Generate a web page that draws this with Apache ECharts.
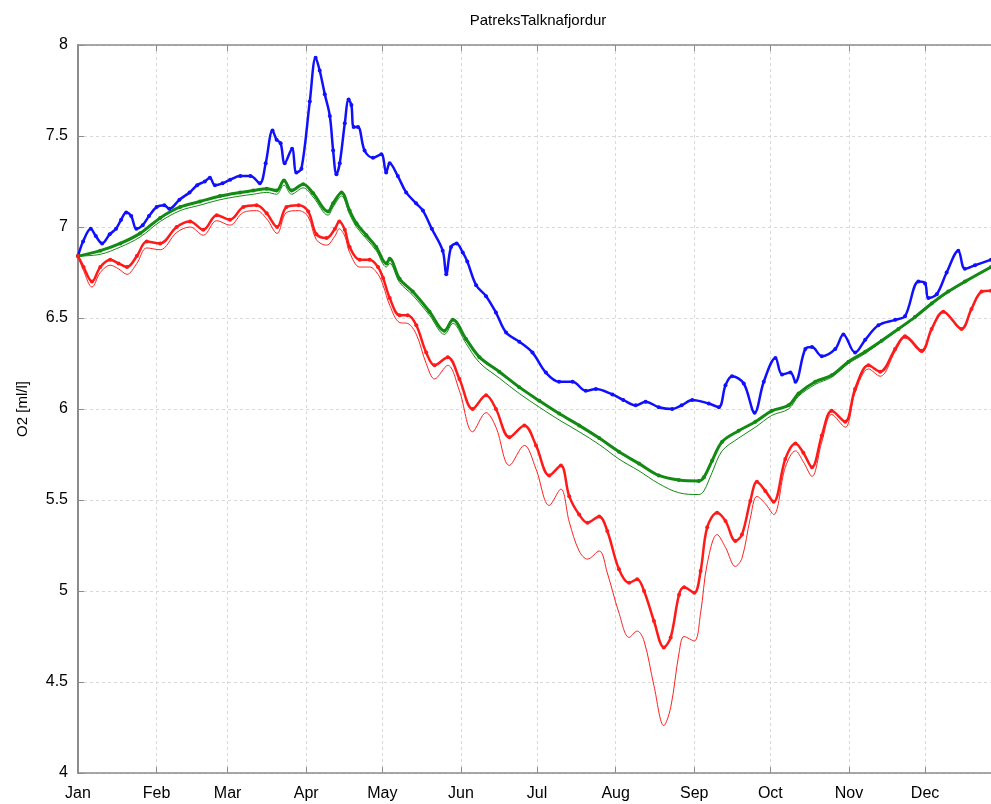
<!DOCTYPE html>
<html>
<head>
<meta charset="utf-8" />
<title>PatreksTalknafjordur</title>
<script src="https://cdn.jsdelivr.net/npm/echarts@6/dist/echarts.min.js"></script>
<style>
	html,body{margin:0;padding:0;background:#fff;}
	#chart{width:991px;height:804px;}
</style>
</head>
<body>
<div id="chart"></div>
<script>
// month ticks (day of year)
var monthNames=['Jan','Feb','Mar','Apr','May','Jun','Jul','Aug','Sep','Oct','Nov','Dec'];
var monthStarts=[0,31,59,90,120,151,181,212,243,273,304,334];
var yTicks=[4,4.5,5,5.5,6,6.5,7,7.5,8];

// blue
var blueDays=[0,2,5,7,9.5,12.5,15,17,19,21,23,25.5,28,31,34,36,40,44,47,50,52,54,57,60,64,68,71.7,74,76.7,78.3,79.9,81.5,84.4,86.1,88.1,91.4,93.7,95.3,97.3,99.3,100.6,101.9,103.2,105.2,106.7,107.8,108.7,110.4,113,116.3,119.6,121.5,122.9,126.1,129.4,133.3,136,139.5,143.8,145.2,147.1,149.3,151.7,153.5,157,160.9,164.8,168.8,174,179.2,184.5,189.7,195,200.2,204.2,210.7,215,219.9,223.8,229,234.3,238,242.2,248.7,252.7,255.3,257.9,262.5,266.8,270.4,275,277.6,280.9,282.9,286.8,289.4,293.3,298.6,301.8,306.4,310.4,315.6,322.2,326.1,331.4,334,335.3,338.6,342.5,347.1,349.7,353.7,360];
var blueO2=[6.84,6.92,6.99,6.95,6.91,6.96,6.99,7.04,7.08,7.06,6.99,7.01,7.06,7.11,7.12,7.10,7.15,7.19,7.23,7.25,7.27,7.23,7.24,7.26,7.28,7.28,7.24,7.35,7.53,7.48,7.46,7.35,7.43,7.30,7.32,7.69,7.93,7.86,7.73,7.61,7.42,7.29,7.35,7.57,7.70,7.67,7.55,7.55,7.42,7.38,7.40,7.30,7.35,7.28,7.19,7.13,7.09,6.99,6.87,6.74,6.89,6.91,6.86,6.81,6.68,6.62,6.53,6.42,6.37,6.31,6.20,6.15,6.15,6.10,6.11,6.08,6.05,6.02,6.04,6.01,6.00,6.02,6.05,6.03,6.01,6.13,6.18,6.14,5.98,6.15,6.28,6.19,6.20,6.15,6.33,6.34,6.29,6.33,6.41,6.31,6.38,6.46,6.49,6.51,6.70,6.69,6.61,6.63,6.75,6.87,6.77,6.79,6.82];

// green
var greenDays=[0,8.8,16.7,24.5,32.4,40.3,48.1,56,63.9,69.1,74.4,78.3,81.2,84.2,88.8,92.7,98.6,100.6,103.9,107.1,109.8,113.7,117.6,121.6,122.9,126.8,132,138.6,144.5,147.8,153,158.3,166.1,174,181.9,189.7,197.6,205.5,213.3,221.2,229,236.9,244.8,246.8,250,254,260.5,267.1,273.6,280.2,284.1,290.7,297.2,303.8,310.4,316.9,323.5,330,336.6,343.1,349.7,360];
var greenO2=[6.84,6.87,6.91,6.965,7.05,7.11,7.14,7.17,7.19,7.20,7.21,7.20,7.255,7.20,7.235,7.185,7.085,7.13,7.19,7.09,7.02,6.955,6.89,6.80,6.825,6.715,6.645,6.535,6.43,6.49,6.385,6.285,6.205,6.12,6.045,5.975,5.91,5.84,5.765,5.70,5.635,5.61,5.605,5.625,5.715,5.82,5.88,5.93,5.99,6.02,6.085,6.15,6.185,6.26,6.315,6.375,6.44,6.505,6.58,6.645,6.70,6.78];
var greenThin=[6.84,6.85,6.89,6.945,7.03,7.09,7.12,7.15,7.17,7.18,7.19,7.18,7.23,7.18,7.215,7.165,7.065,7.11,7.17,7.07,7.00,6.935,6.87,6.78,6.80,6.695,6.625,6.515,6.41,6.47,6.36,6.255,6.17,6.085,6.01,5.94,5.875,5.805,5.725,5.66,5.59,5.54,5.53,5.55,5.65,5.77,5.84,5.90,5.965,6.00,6.07,6.135,6.175,6.25,6.305,6.37,6.435,6.50,6.575,6.64,6.695,6.78];

// red
var redDays=[0,2.2,5.5,8.8,12.7,16,19.3,23.2,27.1,32.4,38.9,44.2,49.4,54.7,59.9,65.2,70.4,74.4,78.5,82.2,87,90.8,94,98,101.3,103,105.2,107.1,111.1,115,118.3,120.3,122.9,126.8,130,133.4,137.3,140.6,145.8,150.4,155.6,160.9,164.8,170.1,176,180.6,185.8,190.4,193.7,197.6,200.9,205.5,208.7,213.3,217.3,220.5,223.2,227.1,231,233.7,237,239,243,245.5,248.1,252,255.3,259.2,261.8,265.1,267.7,271,274.3,278.9,282.9,286,289.4,293.3,297.2,302.5,306.4,311.7,316.3,322.2,326.1,332.7,336.6,341.2,348.4,352.3,356.3,360];
var redO2=[6.84,6.78,6.70,6.78,6.82,6.80,6.78,6.84,6.92,6.91,7.00,7.03,6.985,7.065,7.04,7.11,7.12,7.075,7.00,7.11,7.12,7.085,6.96,6.94,6.99,7.03,6.985,6.89,6.82,6.82,6.78,6.72,6.61,6.515,6.515,6.46,6.31,6.24,6.285,6.165,6.00,6.075,6.00,5.845,5.91,5.80,5.635,5.69,5.52,5.42,5.375,5.41,5.33,5.12,5.045,5.065,5.00,4.835,4.69,4.745,4.98,5.02,4.99,5.11,5.35,5.43,5.385,5.275,5.31,5.495,5.60,5.55,5.49,5.725,5.81,5.76,5.68,5.855,5.99,5.93,6.11,6.24,6.205,6.33,6.40,6.32,6.44,6.535,6.44,6.55,6.645,6.65];
var redThin=[6.84,6.76,6.67,6.75,6.79,6.77,6.74,6.80,6.885,6.875,6.97,7.00,6.955,7.035,7.01,7.08,7.09,7.045,6.965,7.08,7.09,7.055,6.93,6.90,6.95,6.99,6.95,6.86,6.78,6.78,6.74,6.68,6.57,6.475,6.47,6.41,6.25,6.165,6.24,6.10,5.875,5.98,5.90,5.69,5.80,5.67,5.47,5.56,5.38,5.22,5.175,5.22,5.10,4.88,4.745,4.78,4.725,4.48,4.26,4.36,4.66,4.75,4.725,4.88,5.15,5.31,5.24,5.135,5.18,5.40,5.52,5.48,5.42,5.68,5.77,5.71,5.63,5.82,5.97,5.90,6.09,6.22,6.18,6.315,6.39,6.31,6.435,6.53,6.435,6.545,6.64,6.65];

function pairs(days,vals){
	var out=[];
	for(var i=0;i<days.length;i++){
		out.push([days[i],vals[i]]);
	}
	return out;
}

var fontName='"Liberation Sans", Arial, sans-serif';
var axisGrey='#8c8c8c';

function lineSeries(name,data,color,width,dots){
	return {
		name:name,
		type:'line',
		data:data,
		smooth:0.35,
		lineStyle:{color:color,width:width},
		itemStyle:{color:color},
		symbol:dots?'circle':'none',
		symbolSize:dots?4:0,
		showSymbol:dots,
		showAllSymbol:true,
		silent:true,
		z:dots?3:2
	};
}

var myChart=echarts.init(document.getElementById('chart'));
var option={
	animation:false,
	backgroundColor:'#fff',
	title:{
		text:'PatreksTalknafjordur',
		left:533,
		top:8,
		textAlign:'center',
		textStyle:{fontFamily:fontName,fontSize:15,fontWeight:'normal',color:'#000'}
	},
	grid:{left:78,right:0,top:45,bottom:31,outerBoundsMode:'none',containLabel:false},
	xAxis:[
		{
			type:'value',
			position:'bottom',
			min:0,
			max:360,
			axisLine:{show:true,onZero:false,lineStyle:{color:axisGrey,width:1.5}},
			axisTick:{show:true,inside:true,length:6,customValues:monthStarts,lineStyle:{color:axisGrey}},
			axisLabel:{
				customValues:monthStarts,
				margin:13,
				fontFamily:fontName,
				fontSize:16,
				color:'#000',
				formatter:function(v){
					var idx=monthStarts.indexOf(Math.round(v));
					return idx>=0?monthNames[idx]:'';
				}
			},
			splitLine:{show:true,lineStyle:{color:'#d9d9d9',type:[3,3],width:1}}
		},
		{
			type:'value',
			position:'top',
			min:0,
			max:360,
			axisLine:{show:true,onZero:false,lineStyle:{color:axisGrey,width:1.5}},
			axisTick:{show:true,inside:true,length:6,customValues:monthStarts,lineStyle:{color:axisGrey}},
			axisLabel:{show:false},
			splitLine:{show:false}
		}
	],
	yAxis:{
		type:'value',
		min:4,
		max:8,
		interval:0.5,
		name:'O2 [ml/l]',
		nameLocation:'middle',
		nameGap:48,
		nameRotate:90,
		nameTextStyle:{fontFamily:fontName,fontSize:15,color:'#000'},
		axisLine:{show:true,lineStyle:{color:axisGrey,width:2}},
		axisTick:{show:true,inside:true,length:6,lineStyle:{color:axisGrey}},
		axisLabel:{
			margin:10,
			fontFamily:fontName,
			fontSize:16,
			color:'#000',
			formatter:function(v){
				return yTicks.indexOf(v)>=0?String(v):'';
			}
		},
		splitLine:{show:true,lineStyle:{color:'#d9d9d9',type:[3,3],width:1}}
	},
	series:[
		lineSeries('greenThin',pairs(greenDays,greenThin),'#138a13',1,false),
		lineSeries('redThin',pairs(redDays,redThin),'#ff2020',1,false),
		lineSeries('blue',pairs(blueDays,blueO2),'#1010ff',2.5,true),
		lineSeries('green',pairs(greenDays,greenO2),'#138a13',3,true),
		lineSeries('red',pairs(redDays,redO2),'#ff1a1a',2.5,true)
	]
};
myChart.setOption(option);
</script>
</body>
</html>
